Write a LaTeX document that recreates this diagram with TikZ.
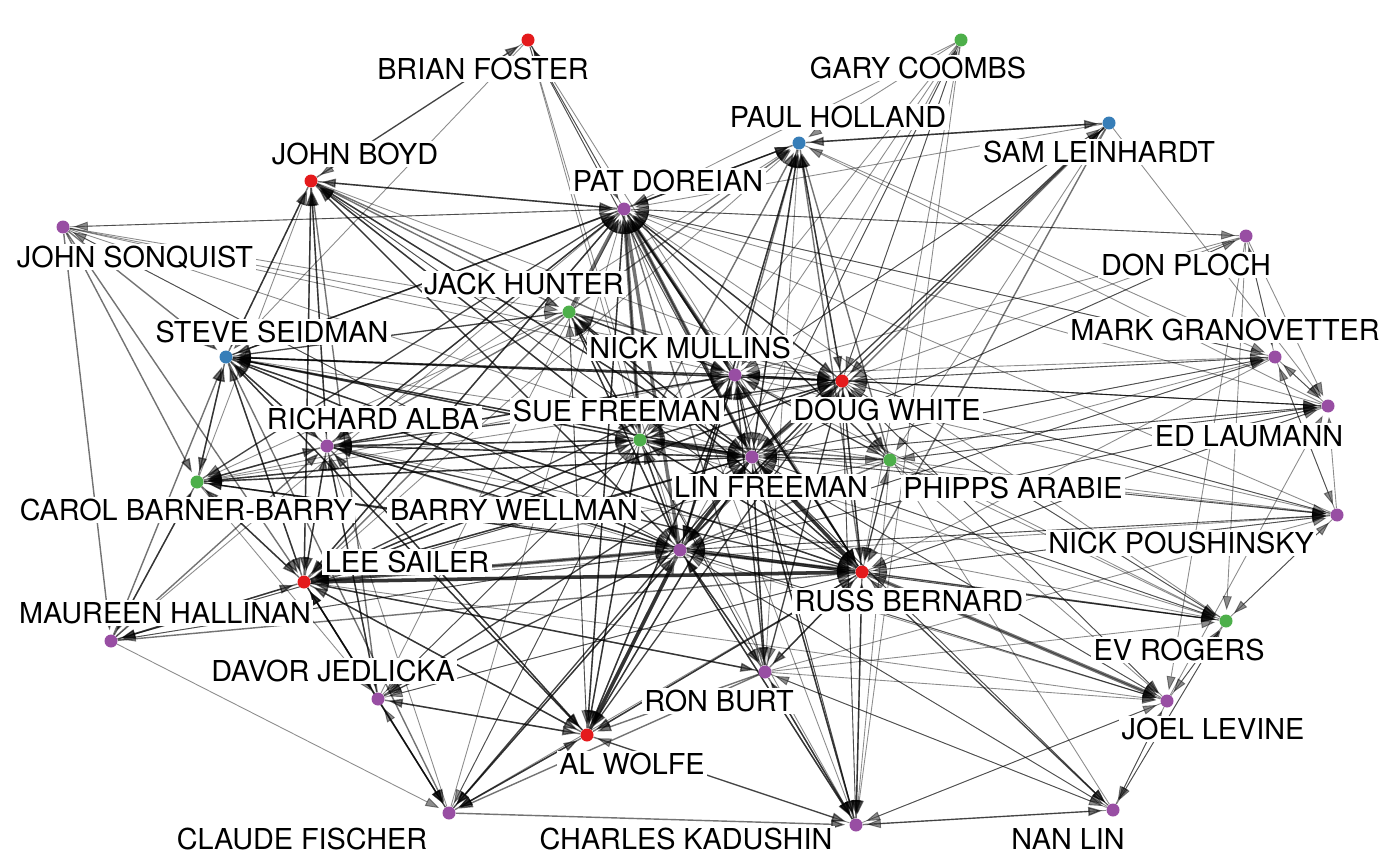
\documentclass[tikz,border=0pt]{standalone}
\usepackage{fontspec}
\setmainfont{TeX Gyre Heros}
\usetikzlibrary{arrows.meta}
\pgfdeclarelayer{background}
\pgfsetlayers{background,main}
\definecolor{cRed}{HTML}{E41A1C}
\definecolor{cBlue}{HTML}{377EB8}
\definecolor{cGreen}{HTML}{4DAF4A}
\definecolor{cPurple}{HTML}{984EA3}

\begin{document}
\begin{tikzpicture}[
    x=0.02cm, y=-0.02cm,
    font=\fontsize{16.4}{19}\selectfont,
    dot/.style={circle, inner sep=0pt, minimum size=0.26cm},
    lbl/.style={fill=white, inner sep=1.5pt, text depth=0pt},
    e/.style={draw=black, opacity=0.55, line width=0.8pt, shorten >=0.08cm,
              -{Triangle[length=0.28cm, width=0.18cm]}},
    et/.style={e, opacity=0.45, line width=0.5pt},
    ew/.style={e, opacity=0.55, line width=2pt}
]
\useasboundingbox (0,0) rectangle (1400,865);

% researchers
\node[dot, fill=cRed] (bf) at (528,40) {};
\node[dot, fill=cGreen] (gc) at (961,40) {};
\node[dot, fill=cBlue] (ph) at (799,143) {};
\node[dot, fill=cBlue] (sl) at (1109,123) {};
\node[dot, fill=cRed] (jb) at (311,181) {};
\node[dot, fill=cPurple] (pd) at (624,209) {};
\node[dot, fill=cPurple] (js) at (63,227) {};
\node[dot, fill=cPurple] (dp) at (1246,236) {};
\node[dot, fill=cGreen] (jh) at (569,312) {};
\node[dot, fill=cBlue] (ss) at (226,357) {};
\node[dot, fill=cPurple] (mg) at (1275,357) {};
\node[dot, fill=cPurple] (nm) at (735,375) {};
\node[dot, fill=cRed] (dw) at (842,381) {};
\node[dot, fill=cGreen] (sf) at (640,440) {};
\node[dot, fill=cPurple] (ra) at (327,446) {};
\node[dot, fill=cPurple] (el) at (1328,406) {};
\node[dot, fill=cPurple] (lf) at (752,457) {};
\node[dot, fill=cGreen] (pa) at (890,460) {};
\node[dot, fill=cGreen] (cb) at (197,482) {};
\node[dot, fill=cPurple] (bw) at (680,550) {};
\node[dot, fill=cPurple] (np) at (1337,515) {};
\node[dot, fill=cRed] (ls) at (304,582) {};
\node[dot, fill=cRed] (rb) at (862,572) {};
\node[dot, fill=cPurple] (mh) at (111,641) {};
\node[dot, fill=cGreen] (er) at (1226,621) {};
\node[dot, fill=cPurple] (dj) at (378,699) {};
\node[dot, fill=cPurple] (rbu) at (765,672) {};
\node[dot, fill=cPurple] (jl) at (1167,701) {};
\node[dot, fill=cRed] (aw) at (587,735) {};
\node[dot, fill=cPurple] (cf) at (449,813) {};
\node[dot, fill=cPurple] (ck) at (856,825) {};
\node[dot, fill=cPurple] (nl) at (1113,810) {};

% names
\node[lbl] (bfT) at (483,69) {BRIAN FOSTER};
\node[lbl] (gcT) at (918,68) {GARY COOMBS};
\node[lbl] (phT) at (838,117) {PAUL HOLLAND};
\node[lbl] (slT) at (1099,152) {SAM LEINHARDT};
\node[lbl] (jbT) at (355,154) {JOHN BOYD};
\node[lbl] (pdT) at (668,181) {PAT DOREIAN};
\node[lbl] (jsT) at (135,257) {JOHN SONQUIST};
\node[lbl] (dpT) at (1186,265) {DON PLOCH};
\node[lbl] (jhT) at (524,284) {JACK HUNTER};
\node[lbl] (ssT) at (272,332) {STEVE SEIDMAN};
\node[lbl] (mgT) at (1225,330) {MARK GRANOVETTER};
\node[lbl] (nmT) at (690,348) {NICK MULLINS};
\node[lbl] (dwT) at (887,410) {DOUG WHITE};
\node[lbl] (sfT) at (617,411) {SUE FREEMAN};
\node[lbl] (raT) at (373,419) {RICHARD ALBA};
\node[lbl] (elT) at (1249,436) {ED LAUMANN};
\node[lbl] (lfT) at (771,487) {LIN FREEMAN};
\node[lbl] (paT) at (1013,488) {PHIPPS ARABIE};
\node[lbl] (cbT) at (186,510) {CAROL BARNER-BARRY};
\node[lbl] (bwT) at (514,510) {BARRY WELLMAN};
\node[lbl] (npT) at (1181,543) {NICK POUSHINSKY};
\node[lbl] (lsT) at (407,562) {LEE SAILER};
\node[lbl] (rbT) at (909,601) {RUSS BERNARD};
\node[lbl] (mhT) at (165,613) {MAUREEN HALLINAN};
\node[lbl] (erT) at (1179,650) {EV ROGERS};
\node[lbl] (djT) at (333,671) {DAVOR JEDLICKA};
\node[lbl] (rbuT) at (719,701) {RON BURT};
\node[lbl] (jlT) at (1213,729) {JOEL LEVINE};
\node[lbl] (awT) at (632,764) {AL WOLFE};
\node[lbl] (cfT) at (302,839) {CLAUDE FISCHER};
\node[lbl] (ckT) at (686,839) {CHARLES KADUSHIN};
\node[lbl] (nlT) at (1068,839) {NAN LIN};

% messages
\begin{pgfonlayer}{background}
\draw[ew] (lf) edge (pd) edge (bw) edge (rb) edge (sf);
\draw[ew] (bw) edge (pd) edge (lf) edge (aw) edge (rb);
\draw[ew] (ls) edge (rb) edge (bw);
\draw[ew] (rb) edge (jl) edge (lf) edge (ls);
\draw[ew] (jh) edge (pd);
\draw[ew] (nm) edge (pd);
\draw[ew] (sf) edge (lf) edge (pd);
\draw[ew] (dw) edge (lf);
\draw[ew] (aw) edge (bw);

\draw[e] (lf) edge (dw) edge (nm) edge (ls) edge (ss) edge (ra) edge (aw)
  edge (rbu) edge (jh) edge (ph) edge (jb) edge (cb) edge (cf) edge (ck);
\draw[et] (lf) edge (nl) edge (er) edge (jl) edge (np) edge (el) edge (mg)
  edge (dp) edge (sl) edge (gc) edge (bf) edge (dj) edge (pa) edge (mh);
\draw[e] (bw) edge (dw) edge (nm) edge (sf) edge (ls) edge (ss) edge (ra)
  edge (rbu) edge (ph) edge (jb) edge (cb) edge (cf) edge (ck) edge (jh);
\draw[et] (bw) edge (nl) edge (er) edge (jl) edge (np) edge (mg) edge (js)
  edge (el) edge (dj) edge (mh);
\draw[e] (rb) edge (bw) edge (dw) edge (nm) edge (sf) edge (pd) edge (ss)
  edge (aw) edge (rbu) edge (ph) edge (ck) edge (nl) edge (er) edge (jh);
\draw[et] (rb) edge (np) edge (el) edge (cf) edge (dj) edge (ra) edge (jb)
  edge (cb) edge (pa);
\draw[e] (dw) edge (bw) edge (rb) edge (nm) edge (sf) edge (pd) edge (ls)
  edge (ss) edge (ph) edge (pa) edge (aw) edge (ra);
\draw[et] (dw) edge (mg) edge (el) edge (np) edge (er) edge (jl) edge (ck)
  edge (sl) edge (gc) edge (cb) edge (rbu);
\draw[e] (nm) edge (lf) edge (bw) edge (rb) edge (dw) edge (sf) edge (ss)
  edge (ph) edge (jh) edge (ra) edge (aw) edge (ls);
\draw[et] (nm) edge (ck) edge (er) edge (el) edge (sl) edge (cb) edge (rbu)
  edge (pa);
\draw[e] (sf) edge (bw) edge (rb) edge (dw) edge (nm) edge (ls) edge (ss)
  edge (ra) edge (aw) edge (jh) edge (ph) edge (cb) edge (jb);
\draw[et] (sf) edge (cf) edge (ck) edge (np) edge (rbu) edge (dj) edge (er);
\draw[e] (pd) edge (lf) edge (rb) edge (dw) edge (nm) edge (sf) edge (jb)
  edge (ph) edge (ls) edge (ss) edge (aw) edge (ra);
\draw[et] (pd) edge (dp) edge (mg) edge (js) edge (bf) edge (pa) edge (cb);
\draw[e] (ls) edge (lf) edge (sf) edge (pd) edge (ss) edge (ra) edge (aw)
  edge (cb) edge (mh) edge (dj) edge (cf) edge (jb) edge (rbu) edge (dw);
\draw[et] (ls) edge (np) edge (jl) edge (nm) edge (ph);
\draw[e] (ss) edge (lf) edge (bw) edge (sf) edge (pd) edge (ls) edge (ra)
  edge (cb) edge (jb) edge (aw) edge (cf) edge (dw) edge (nm) edge (rb);
\draw[et] (ss) edge (jh) edge (ph);
\draw[e] (ra) edge (lf) edge (bw) edge (sf) edge (ss) edge (ls) edge (cb)
  edge (pd) edge (jb) edge (dj) edge (aw) edge (nm) edge (rb);
\draw[et] (ra) edge (er) edge (jl) edge (dw) edge (ph);
\draw[e] (aw) edge (lf) edge (rb) edge (ls) edge (ss) edge (cf) edge (ck)
  edge (pd) edge (dj) edge (sf) edge (nm) edge (ra);
\draw[et] (aw) edge (jh) edge (dw);
\draw[e] (rbu) edge (lf) edge (bw) edge (rb) edge (ls) edge (ck) edge (aw)
  edge (cf) edge (pd) edge (dw) edge (nm);
\draw[et] (rbu) edge (nl) edge (jl) edge (er) edge (np) edge (sf) edge (ph);
\draw[e] (jh) edge (lf) edge (sf) edge (ss) edge (ls) edge (bw) edge (dw)
  edge (ra) edge (ph) edge (nm) edge (rb);
\draw[et] (jh) edge (aw) edge (cb);
\draw[e] (ph) edge (sl) edge (lf) edge (bw) edge (pd) edge (dw);
\draw[et] (ph) edge (mg);
\draw[e] (jb) edge (pd) edge (ss) edge (lf) edge (bw) edge (ls) edge (ra)
  edge (sf) edge (bf) edge (nm) edge (jh);
\draw[et] (jb) edge (dw) edge (rb);
\draw[e] (cb) edge (ss) edge (ls) edge (ra) edge (mh) edge (lf) edge (bw)
  edge (sf) edge (pd);
\draw[et] (cb) edge (jb) edge (dj) edge (rb);
\draw[e] (js) edge (cb) edge (ls) edge (ss) edge (mh);
\draw[et] (js) edge (nm) edge (dw) edge (pd) edge (lf) edge (jh) edge (bw);
\draw[e] (mh) edge (ls) edge (cb) edge (ss) edge (ra) edge (rb);
\draw[et] (mh) edge (cf) edge (lf) edge (bw) edge (pd);
\draw[e] (dj) edge (ls) edge (ra) edge (aw) edge (cf) edge (bw) edge (lf)
  edge (jb);
\draw[et] (dj) edge (rb) edge (sf) edge (pd);
\draw[e] (cf) edge (ls) edge (aw) edge (ck) edge (bw);
\draw[et] (cf) edge (lf) edge (pd) edge (sf) edge (dj) edge (ra);
\draw[e] (ck) edge (rb) edge (lf) edge (bw) edge (nl) edge (rbu);
\draw[et] (ck) edge (pd) edge (dw) edge (aw) edge (nm) edge (jl);
\draw[et] (nl) edge (er) edge (ck) edge (rb) edge (lf) edge (bw) edge (dw)
  edge (jl) edge (rbu);
\draw[et] (er) edge (rb) edge (lf) edge (np) edge (bw) edge (dw) edge (pd)
  edge (jl) edge (nl);
\draw[et] (jl) edge (rb) edge (lf) edge (nl) edge (el) edge (bw) edge (dw)
  edge (er) edge (ck);
\draw[et] (np) edge (dw) edge (lf) edge (el) edge (rb) edge (pd) edge (bw)
  edge (nm) edge (er) edge (mg);
\draw[et] (el) edge (dw) edge (mg) edge (lf) edge (pd) edge (nm) edge (rb)
  edge (bw) edge (ph) edge (pa);
\draw[et] (mg) edge (pd) edge (dp) edge (lf) edge (dw) edge (nm) edge (rb)
  edge (bw) edge (el) edge (np);
\draw[et] (dp) edge (mg) edge (er) edge (jl) edge (el) edge (pd) edge (dw)
  edge (lf) edge (nm);
\draw[e] (sl) edge (ph) edge (lf) edge (dw) edge (rb) edge (bw);
\draw[et] (sl) edge (el) edge (nm) edge (pd) edge (pa);
\draw[et] (gc) edge (pd) edge (lf) edge (nm) edge (dw) edge (sf) edge (rb)
  edge (ck) edge (bw) edge (ph);
\draw[et] (bf) edge (jb) edge (ss) edge (pd) edge (sf) edge (bw) edge (lf)
  edge (rb);
\draw[e] (pa) edge (lf) edge (dw) edge (rb) edge (pd) edge (nm) edge (sf)
  edge (ph) edge (bw);
\draw[et] (pa) edge (er) edge (np) edge (el) edge (mg) edge (jl) edge (ck)
  edge (ls) edge (ss);
\end{pgfonlayer}
\end{tikzpicture}
\end{document}
